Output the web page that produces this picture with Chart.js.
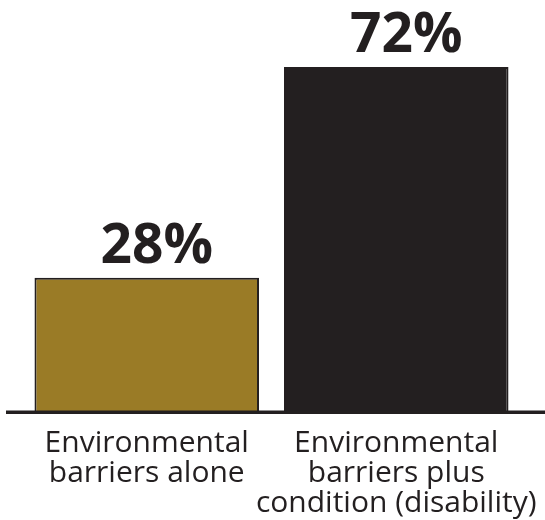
<!DOCTYPE html>
<html>
<head>
<meta charset="utf-8">
<script src="https://cdn.jsdelivr.net/npm/chart.js@4"></script>
<style>
  html, body { margin: 0; padding: 0; background: #fff; }
  #wrap { width: 545px; height: 520px; }
</style>
</head>
<body>
<div id="wrap"><canvas id="myChart" width="545" height="520"></canvas></div>
<script>
const categories = [
  ['Environmental', 'barriers alone'],
  ['Environmental', 'barriers plus', 'condition (disability)']
];
const percentValues = [28, 72];
const barColors = ['#9a7b26', '#231f20'];

// draws the value above each bar and the long baseline
const valueLabels = {
  id: 'valueLabels',
  afterDatasetsDraw(chart) {
    const ctx = chart.ctx;
    const meta = chart.getDatasetMeta(0);
    ctx.save();
    ctx.fillStyle = '#231f20';
    ctx.font = 'bold 55px "Open Sans"';
    ctx.textAlign = 'center';
    ctx.textBaseline = 'alphabetic';
    meta.data.forEach((bar, i) => {
      ctx.fillText(percentValues[i] + '%', bar.x + 10, bar.y - 15);
    });
    const y0 = chart.scales.y.getPixelForValue(0);
    ctx.fillRect(6, y0 - 1.5, chart.width - 6, 3.5);
    ctx.restore();
  }
};

new Chart(document.getElementById('myChart').getContext('2d'), {
  type: 'bar',
  data: {
    labels: categories,
    datasets: [{
      data: percentValues,
      backgroundColor: barColors,
      borderColor: '#231f20',
      borderWidth: 2,
      barPercentage: 1,
      categoryPercentage: 0.9
    }]
  },
  options: {
    responsive: false,
    animation: false,
    layout: { padding: { left: 22, right: 24, top: 0, bottom: 0 } },
    plugins: { legend: { display: false }, tooltip: { enabled: false } },
    scales: {
      x: {
        grid: { display: false, drawTicks: false },
        border: { display: false },
        ticks: {
          color: '#231f20',
          font: { family: '"Open Sans"', size: 30, lineHeight: 1.0 },
          padding: 16,
          maxRotation: 0,
          autoSkip: false
        },
        afterFit(scale) {
          scale.height = 108;
          scale.paddingLeft = 0;
          scale.paddingRight = 0;
        }
      },
      y: {
        display: false,
        min: 0,
        max: 86
      }
    }
  },
  plugins: [valueLabels]
});
</script>
</body>
</html>
